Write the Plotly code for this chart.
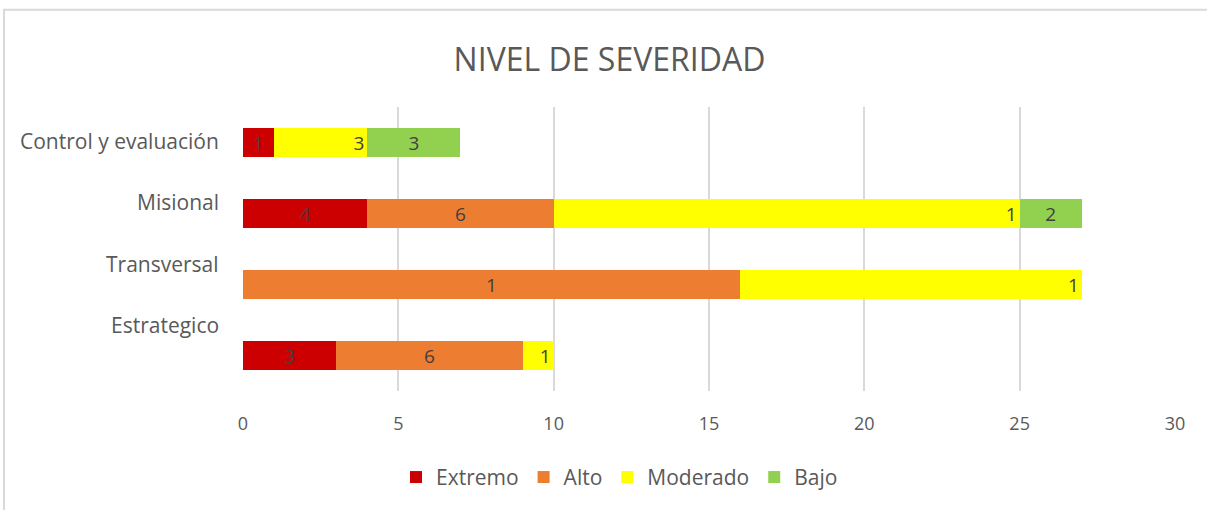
import numpy as np
import plotly.graph_objects as go

categories = ["Control y evaluación", "Misional", "Transversal", "Estrategico"]
series_names = ["Extremo", "Alto", "Moderado", "Bajo"]
extremo = [1, 4, 0, 3]
alto = [0, 6, 16, 6]
moderado = [3, 15, 11, 1]
bajo = [3, 2, 0, 0]
# data labels as they appear (truncated) in the reference picture
extremo_labels = ["1", "4", "", "3"]
alto_labels = ["", "6", "1", "6"]
moderado_labels = ["3", "1", "1", "1"]
bajo_labels = ["3", "2", "", ""]
x_ticks = [0, 5, 10, 15, 20, 25, 30]

colors = ["#CC0000", "#ED7D31", "#FFFF00", "#92D050"]
anchors = ["middle", "middle", "end", "middle"]

W, H = 1207, 510
L, R, T, B = 243, 32, 107, 117
pw, ph = W - L - R, H - T - B

def px_to_paper_x(px):
    return (px - L) / pw

def px_to_paper_y(py):
    return (H - B - py) / ph

FONT = "Open Sans"
fig = go.Figure()
for name, vals, labs, col, anc in zip(
    series_names,
    [extremo, alto, moderado, bajo],
    [extremo_labels, alto_labels, moderado_labels, bajo_labels],
    colors, anchors,
):
    fig.add_trace(go.Bar(
        y=categories, x=vals, name=name, orientation="h",
        marker=dict(color=col, line=dict(width=0)),
        text=labs, textposition="inside", insidetextanchor=anc,
        textfont=dict(family=FONT, size=19, color="#404040"),
        textangle=0, constraintext="none",
        hovertemplate="%{y}<br>" + name + ": %{x}<extra></extra>",
    ))

# category labels (offset from bars in the reference)
label_y = np.linspace(px_to_paper_y(141), px_to_paper_y(327), len(categories))
annotations = []
for cat, yy in zip(categories, label_y):
    annotations.append(dict(
        text=cat, xref="paper", yref="paper", x=px_to_paper_x(221), y=yy,
        xanchor="right", yanchor="middle", showarrow=False,
        font=dict(family=FONT, size=21, color="#595959"),
    ))

fig.update_layout(
    width=W, height=H, autosize=False,
    margin=dict(l=L, r=R, t=T, b=B),
    barmode="stack", bargap=0.594,
    plot_bgcolor="white", paper_bgcolor="white",
    title=dict(text="NIVEL DE SEVERIDAD", x=609.5 / W, xref="container", xanchor="center",
               y=1 - 60 / H, yanchor="middle",
               font=dict(family=FONT, size=32, color="#595959")),
    xaxis=dict(range=[0, 30], tickvals=x_ticks, showgrid=True, gridcolor="#D9D9D9",
               gridwidth=2, zeroline=False, showline=False, ticks="",
               ticklabelstandoff=20,
               tickfont=dict(family=FONT, size=18, color="#595959")),
    yaxis=dict(categoryorder="array", categoryarray=categories, autorange="reversed",
               showticklabels=False, showgrid=False, zeroline=False, ticks=""),
    legend=dict(orientation="h", x=px_to_paper_x(396), xanchor="left",
                y=px_to_paper_y(480), yanchor="middle", traceorder="normal",
                font=dict(family=FONT, size=21, color="#595959"),
                itemwidth=30, tracegroupgap=0),
    annotations=annotations,
    shapes=[dict(type="rect", xref="paper", yref="paper",
                 x0=px_to_paper_x(4), x1=px_to_paper_x(W + 10),
                 y0=px_to_paper_y(H + 10), y1=px_to_paper_y(9),
                 line=dict(color="#D9D9D9", width=2), layer="below")],
    showlegend=True,
)

fig.write_html("out.html", config={"displayModeBar": False},
               post_script="document.body.style.margin='0';")
